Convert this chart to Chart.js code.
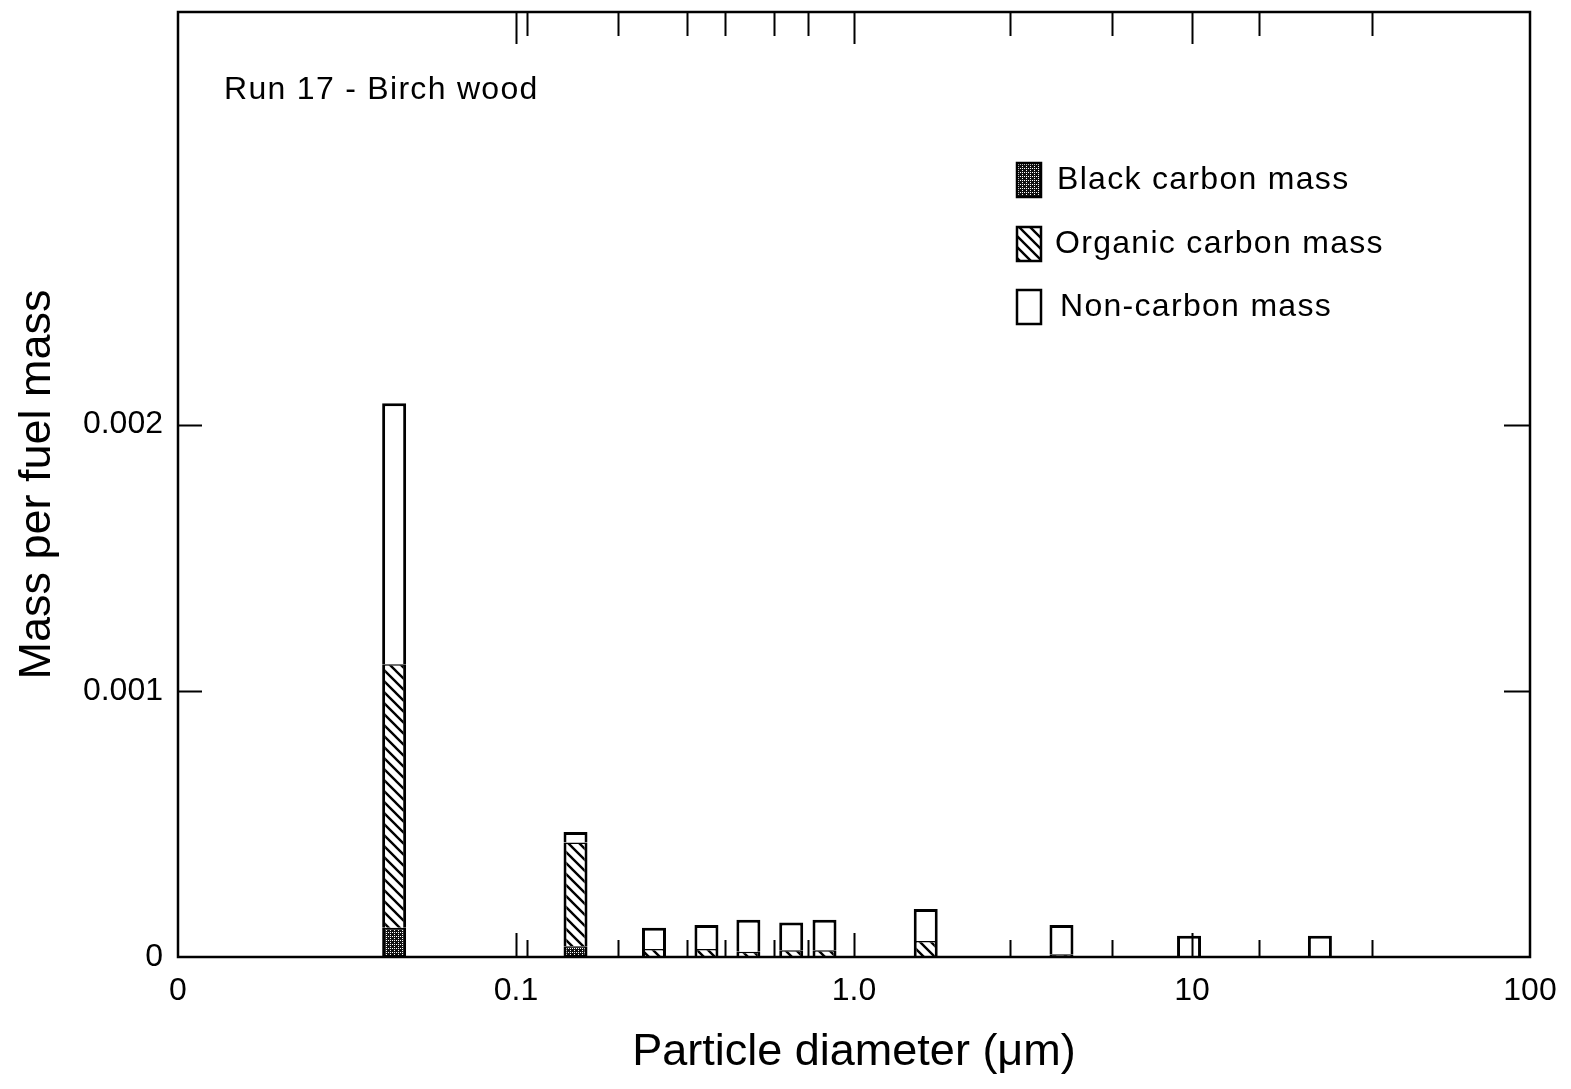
<!DOCTYPE html>
<html><head><meta charset="utf-8">
<script src="https://cdn.jsdelivr.net/npm/chart.js@4"></script>
<style>html,body{margin:0;padding:0;background:#fff}#wrap{width:1571px;height:1089px}</style>
</head><body><div id="wrap"><canvas id="c" width="1571" height="1089"></canvas></div>
<script>
// ---- data ----
const diameters = [0.0436, 0.150, 0.256, 0.366, 0.487, 0.652, 0.818, 1.63, 4.11, 9.8, 23.9];
const blackCarbon = [0.00011, 0.00004, null, null, null, null, null, null, null, null, null];
const organicCarbon = [0.00099, 0.00039, 0.00003, 0.00003, 0.00002, 0.000025, 0.000025, 0.00006, 0.00001, null, null];
const nonCarbon = [0.00098, 0.00004, 0.00008, 0.00009, 0.00012, 0.000105, 0.000115, 0.00012, 0.00011, 0.00008, 0.00008];
const seriesLabels = ['Black carbon mass', 'Organic carbon mass', 'Non-carbon mass'];
const xTickValues = [0.01, 0.1, 1, 10, 100];
const xTickLabels = ['0', '0.1', '1.0', '10', '100'];
const yTickValues = [0, 0.001, 0.002];
const yTickLabels = ['0', '0.001', '0.002'];
const stageCuts = [0.1, 0.108, 0.2, 0.32, 0.415, 0.58, 0.73, 1.0, 2.9, 5.8, 10, 15.8, 34];
const majorCuts = [0.1, 1.0, 10];
const panelTitle = 'Run 17 - Birch wood';
const xTitle = 'Particle diameter (\u03bcm)';
const yTitle = 'Mass per fuel mass';

const FAM = "'Liberation Sans', Arial, Helvetica, sans-serif";

// ---- patterns ----
function makeStipple() {
  const c = document.createElement('canvas'); c.width = 4; c.height = 4;
  const g = c.getContext('2d');
  g.fillStyle = '#111'; g.fillRect(0, 0, 4, 4);
  g.fillStyle = '#fff';
  g.fillRect(0, 0, 1, 1); g.fillRect(2, 2, 1, 1); g.fillRect(2, 0, 1, 1);
  return g.createPattern(c, 'repeat');
}
function makeHatch() {
  const s = 11;
  const c = document.createElement('canvas'); c.width = s; c.height = s;
  const g = c.getContext('2d');
  g.fillStyle = '#fff'; g.fillRect(0, 0, s, s);
  g.strokeStyle = '#000'; g.lineWidth = 2.4;
  g.beginPath();
  g.moveTo(-2, -2); g.lineTo(s + 2, s + 2);
  g.moveTo(-2, s - 2); g.lineTo(2, s + 2);
  g.moveTo(s - 2, -2); g.lineTo(s + 2, 2);
  g.stroke();
  return g.createPattern(c, 'repeat');
}
const stipple = makeStipple();
const hatch = makeHatch();
const fills = [stipple, hatch, '#ffffff'];

const toPoints = arr => diameters.map((d, i) => ({ x: d, y: arr[i] }));

const framePlugin = {
  id: 'frame',
  afterDraw(chart) {
    const { ctx, chartArea: a, scales: { x, y } } = chart;
    ctx.save();
    ctx.strokeStyle = '#000';
    ctx.lineWidth = 2.5;
    ctx.strokeRect(a.left, a.top, a.right - a.left, a.bottom - a.top);
    ctx.lineWidth = 2;
    ctx.beginPath();
    stageCuts.forEach(v => {
      const px = Math.round(x.getPixelForValue(v)) + 0.5;
      const major = majorCuts.includes(v);
      ctx.moveTo(px, a.bottom); ctx.lineTo(px, a.bottom - (major ? 24 : 17));
      ctx.moveTo(px, a.top); ctx.lineTo(px, a.top + (major ? 32 : 24));
    });
    yTickValues.forEach(v => {
      if (v === 0) return;
      const py = Math.round(y.getPixelForValue(v)) + 0.5;
      ctx.moveTo(a.left, py); ctx.lineTo(a.left + 24, py);
      ctx.moveTo(a.right, py); ctx.lineTo(a.right - 26, py);
    });
    ctx.stroke();

    // panel title
    ctx.fillStyle = '#000';
    ctx.font = '32px ' + FAM;
    ctx.letterSpacing = '1.3px';
    ctx.textAlign = 'left';
    ctx.textBaseline = 'middle';
    ctx.fillText(panelTitle, 224, 90);

    // legend
    const ly = [180, 244, 307];
    seriesLabels.forEach((t, i) => {
      const bx = 1017, bw = 24, bh = 34, by = ly[i] - bh / 2;
      ctx.fillStyle = fills[i];
      ctx.fillRect(bx, by, bw, bh);
      ctx.lineWidth = 2.5;
      ctx.strokeStyle = '#000';
      ctx.strokeRect(bx, by, bw, bh);
      ctx.fillStyle = '#000';
      ctx.fillText(t, i === 1 ? 1055 : (i === 0 ? 1057 : 1060), ly[i]);
    });
    ctx.restore();
  }
};

const common = { borderColor: '#000', borderSkipped: false, barThickness: 24, inflateAmount: 0 };
const noPad = s => { s.paddingTop = 0; s.paddingBottom = 0; s.paddingLeft = 0; s.paddingRight = 0; };

new Chart(document.getElementById('c').getContext('2d'), {
  type: 'bar',
  data: {
    datasets: [
      Object.assign({ label: seriesLabels[0], data: toPoints(blackCarbon), backgroundColor: stipple,
        borderWidth: { left: 3, right: 3, top: 1.5, bottom: 2 } }, common),
      Object.assign({ label: seriesLabels[1], data: toPoints(organicCarbon), backgroundColor: hatch,
        borderWidth: { left: 3, right: 3, top: 1.5, bottom: 0 } }, common),
      Object.assign({ label: seriesLabels[2], data: toPoints(nonCarbon), backgroundColor: '#ffffff',
        borderWidth: { left: 3, right: 3, top: 3, bottom: 0 } }, common)
    ]
  },
  options: {
    responsive: false,
    animation: false,
    devicePixelRatio: 1,
    layout: { padding: { top: 12, right: 41, left: 0, bottom: 0 } },
    plugins: { legend: { display: false }, tooltip: { enabled: false } },
    scales: {
      x: {
        type: 'logarithmic', min: 0.01, max: 100, stacked: true, offset: false,
        afterBuildTicks: s => { s.ticks = xTickValues.map(v => ({ value: v })); },
        afterFit: s => { s.height = 1089 - 957; noPad(s); },
        ticks: { autoSkip: false, maxRotation: 0, minRotation: 0, padding: 15, color: '#000',
          font: { family: FAM, size: 32 }, callback: (v, i) => xTickLabels[i] },
        grid: { display: false, drawTicks: false, tickLength: 0 },
        border: { display: false },
        title: { display: true, text: xTitle, color: '#000', font: { family: FAM, size: 45 },
          padding: { top: 0, bottom: 9 } }
      },
      y: {
        type: 'linear', min: 0, max: 0.00355, stacked: true,
        afterBuildTicks: s => { s.ticks = yTickValues.map(v => ({ value: v })); },
        afterFit: s => { s.width = 178; noPad(s); },
        ticks: { padding: 15, color: '#000', font: { family: FAM, size: 32 },
          callback: (v, i) => yTickLabels[i] },
        grid: { display: false, drawTicks: false, tickLength: 0 },
        border: { display: false },
        title: { display: true, text: yTitle, color: '#000', font: { family: FAM, size: 45 },
          padding: { top: 11, bottom: 0 } }
      }
    }
  },
  plugins: [framePlugin]
});
</script>
</body></html>
